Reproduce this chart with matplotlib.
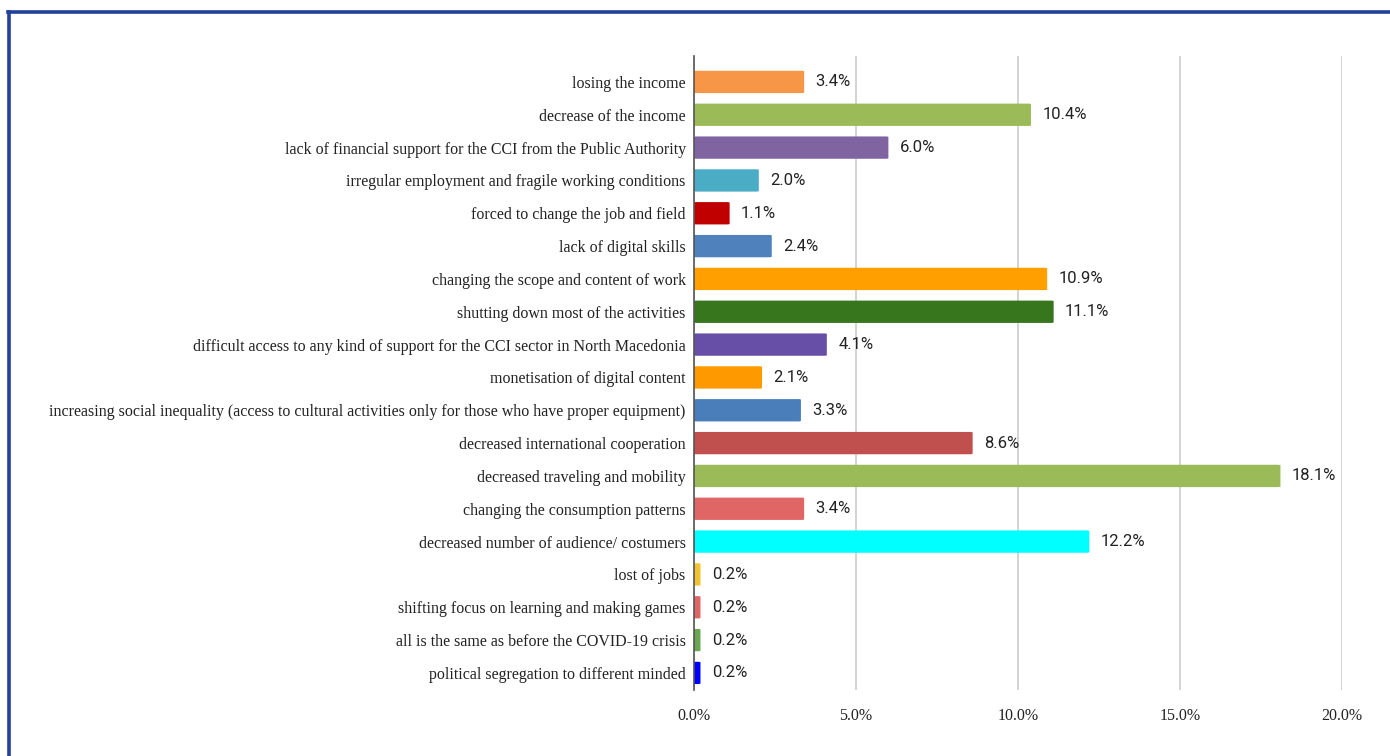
import matplotlib.pyplot as plt
from matplotlib.patches import FancyBboxPatch
from matplotlib.lines import Line2D

# impact categories, top to bottom, with share of answers (%)
categories = [
    'losing the income',
    'decrease of the income',
    'lack of financial support for the CCI from the Public Authority',
    'irregular employment and fragile working conditions',
    'forced to change the job and field',
    'lack of digital skills',
    'changing the scope and content of work',
    'shutting down most of the activities',
    'difficult access to any kind of support for the CCI sector in North Macedonia',
    'monetisation of digital content',
    'increasing social inequality (access to cultural activities only for those who have proper equipment)',
    'decreased international cooperation',
    'decreased traveling and mobility',
    'changing the consumption patterns',
    'decreased number of audience/ costumers',
    'lost of jobs',
    'shifting focus on learning and making games',
    'all is the same as before the COVID-19 crisis',
    'political segregation to different minded',
]
shares = [3.4, 10.4, 6.0, 2.0, 1.1, 2.4, 10.9, 11.1, 4.1, 2.1,
          3.3, 8.6, 18.1, 3.4, 12.2, 0.2, 0.2, 0.2, 0.2]
colors = ['#f79646', '#9bbb59', '#8064a2', '#4bacc6', '#c00000', '#4f81bd',
          '#ff9f00', '#38761d', '#674ea7', '#ff9900', '#4a7ebb', '#c0504d',
          '#9bbb59', '#e06666', '#00ffff', '#f1c232', '#e06666', '#6aa84f',
          '#0000ff']
xticks = [0, 5, 10, 15, 20]

serif = ['Liberation Serif', 'DejaVu Serif']
narrow = ['Liberation Sans Narrow', 'Roboto', 'DejaVu Sans']

fig = plt.figure(figsize=(13.9, 7.56), dpi=100)
ax = fig.add_axes([694 / 1390, 1 - 690 / 756, 648 / 1390, 634 / 756])

ypos = list(range(len(categories)))
bar_h = 0.68
for y, v, c in zip(ypos, shares, colors):
    # bars with slightly rounded ends
    ax.add_patch(FancyBboxPatch((0, y - bar_h / 2), v, bar_h,
                                boxstyle='round,pad=0,rounding_size=0.08',
                                mutation_aspect=1 / 0.25 * 0.06,
                                facecolor=c, edgecolor='none', zorder=3))
    ax.text(v + 0.35, y, f'{v:.1f}%', va='center', ha='left',
            fontsize=12, color='#222222', family=narrow)

ax.set_xlim(0, 20)
ax.set_ylim(len(categories) - 0.48, -0.79)
ax.set_yticks(ypos)
ax.set_yticklabels(categories, family=serif, fontsize=11.5, color='#222222')
ax.set_xticks(xticks)
ax.set_xticklabels([f'{t:.1f}%' for t in xticks], family=serif,
                   fontsize=11.5, color='#222222')
ax.tick_params(axis='both', length=0)
ax.tick_params(axis='x', pad=13)
ax.tick_params(axis='y', pad=6)
ax.xaxis.grid(True, color='#cccccc', linewidth=1.2, zorder=0)
ax.set_axisbelow(True)
for s in ['top', 'right', 'bottom']:
    ax.spines[s].set_visible(False)
ax.spines['left'].set_color('#555555')
ax.spines['left'].set_linewidth(1.2)
ax.spines['left'].set_zorder(4)

# blue frame on the left and top edges
fig.add_artist(Line2D([9 / 1390, 9 / 1390], [0, 1 - 12 / 756],
                      color='#23409a', linewidth=2.6))
fig.add_artist(Line2D([8 / 1390, 1], [1 - 12 / 756, 1 - 12 / 756],
                      color='#23409a', linewidth=2.6))

fig.savefig('out.png', dpi=100)
